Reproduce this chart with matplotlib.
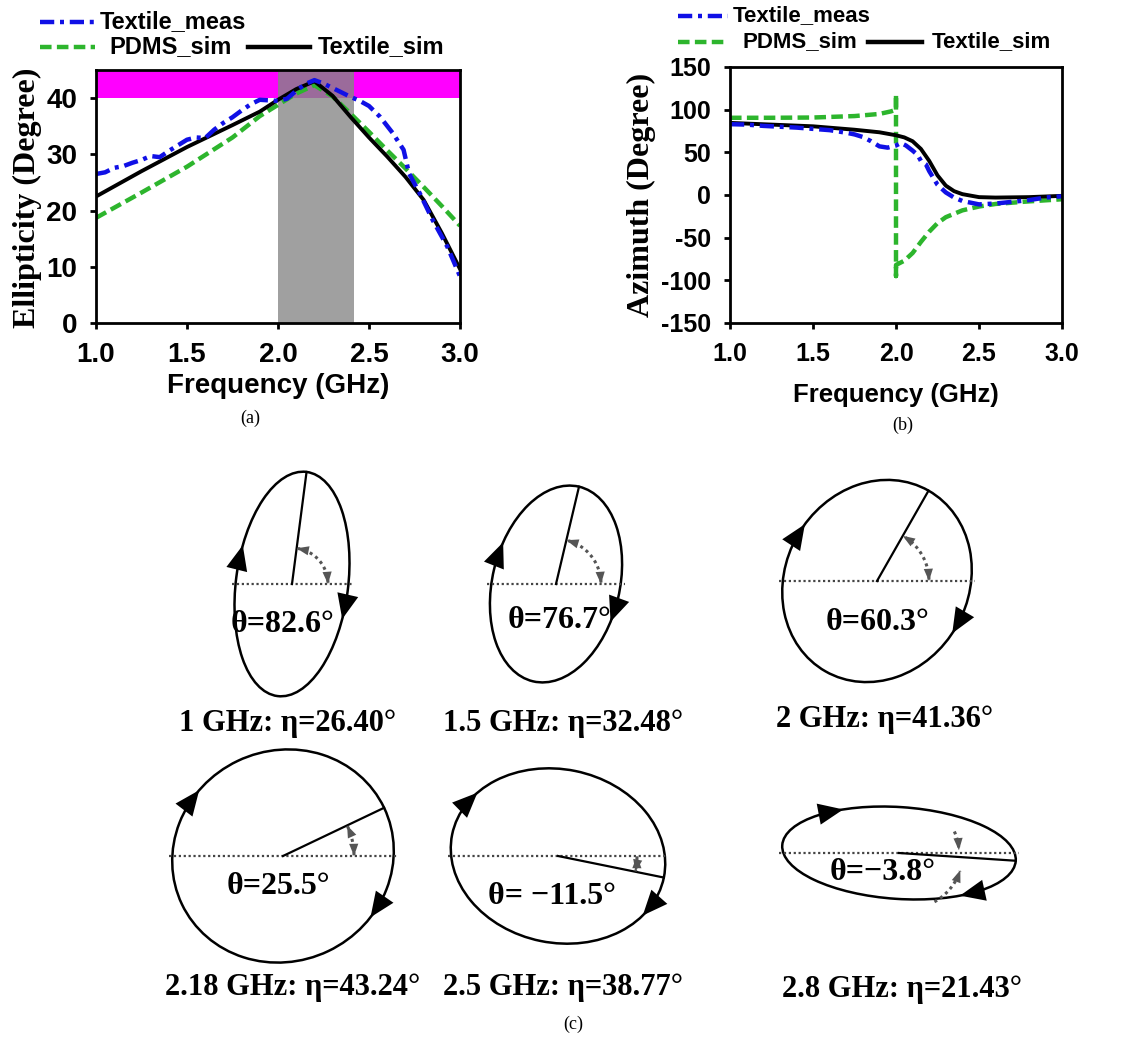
import numpy as np
import matplotlib.pyplot as plt
from matplotlib.lines import Line2D
from matplotlib.patches import Ellipse, Rectangle

W, H = 1145, 1038
SANS = 'Liberation Sans'
SERIF = 'Liberation Serif'
plt.rcParams['font.family'] = SANS
plt.rcParams['font.weight'] = 'bold'
plt.rcParams['axes.unicode_minus'] = False

BLUE = '#1010E6'
GREEN = '#2DB52D'

# ---- (a) ellipticity vs frequency
freq_meas_a = [1.00, 1.05, 1.10, 1.15, 1.20, 1.25, 1.30, 1.35, 1.40, 1.45, 1.50, 1.55,
               1.60, 1.65, 1.70, 1.75, 1.80, 1.85, 1.90, 1.95, 2.00, 2.05, 2.10, 2.15,
               2.20, 2.25, 2.30, 2.35, 2.40, 2.45, 2.50, 2.56, 2.63, 2.69, 2.72, 2.78,
               2.85, 2.93, 3.00]
ell_textile_meas = [26.5, 26.8, 27.6, 27.9, 28.5, 29.0, 29.7, 29.5, 30.6, 31.6, 32.6, 33.0,
                    32.9, 34.4, 35.6, 36.6, 37.8, 38.9, 39.7, 39.6, 39.5, 39.9, 41.3, 42.5,
                    43.2, 42.6, 41.8, 41.0, 40.2, 39.5, 38.6, 36.7, 33.8, 30.8, 26.6, 23.0,
                    18.3, 13.6, 8.3]
freq_sim_a = [1.0, 1.25, 1.5, 1.75, 1.9, 2.0, 2.1, 2.2, 2.3, 2.4, 2.5, 2.6, 2.7, 2.8, 2.9, 3.0]
ell_textile_sim = [22.5, 27.0, 31.3, 35.2, 37.6, 39.7, 41.6, 43.0, 40.4, 36.6, 33.0, 29.6,
                   26.0, 21.9, 16.0, 9.6]
ell_pdms_sim = [18.7, 23.2, 27.8, 33.0, 36.8, 38.8, 40.8, 42.3, 40.3, 37.2, 34.0, 30.7,
                27.5, 24.2, 20.8, 17.3]
cp_band = (2.0, 2.42)
ell_limit = (40, 45)

# ---- (b) azimuth vs frequency
freq_meas_b = [1.0, 1.1, 1.2, 1.3, 1.4, 1.5, 1.6, 1.7, 1.75, 1.8, 1.85, 1.9, 1.95, 2.0,
               2.03, 2.06, 2.1, 2.13, 2.15, 2.18, 2.2, 2.25, 2.3, 2.35, 2.4, 2.5, 2.6,
               2.7, 2.8, 2.9, 3.0]
az_textile_meas = [83, 82.5, 81, 80, 79, 77.5, 76, 73, 71, 68, 63, 57, 55.5, 58,
                   61, 58, 52, 47, 40, 36, 28, 12, 3, -3, -7, -11, -10,
                   -8, -6, -3, -1.5]
freq_textile_sim_b = [1.0, 1.25, 1.5, 1.75, 1.9, 2.0, 2.05, 2.1, 2.15, 2.2, 2.25, 2.3, 2.35,
                      2.4, 2.5, 2.6, 2.8, 3.0]
az_textile_sim = [84.5, 82.5, 80.5, 76.5, 73.5, 70.0, 67.5, 63.0, 54.0, 40.0, 23.0, 11.0, 4.5,
                  1.0, -2.5, -3.0, -2.5, -1.0]
freq_pdms_b = [1.0, 1.25, 1.5, 1.75, 1.9, 1.97, 2.0, 2.0, 2.0, 2.0, 2.05, 2.1, 2.15, 2.2,
               2.25, 2.3, 2.4, 2.5, 2.6, 2.8, 3.0]
az_pdms_sim = [90.5, 90.5, 90.8, 92.5, 95, 98, 100, 118, -95, -82, -77, -68, -55, -43,
               -33, -26, -18, -13.5, -10.5, -7.5, -5]

# ---- (c) polarisation ellipses
pol_freq = ['1', '1.5', '2', '2.18', '2.5', '2.8']
pol_theta = [82.6, 76.7, 60.3, 25.5, -11.5, -3.8]
pol_eta = [26.40, 32.48, 41.36, 43.24, 38.77, 21.43]
theta_labels = ['θ=82.6°', 'θ=76.7°', 'θ=60.3°', 'θ=25.5°', 'θ= −11.5°', 'θ=−3.8°']

# ellipse layout (pixels, y down)
pol_cx = [292, 556, 877, 283, 558, 899]
pol_cy = [584, 584, 581, 856, 856, 853]
pol_a = [113, 100, 104, 112, 108, 117]
arc_r = [36, 45, 52, 71, 79, 52]
theta_xy = [(283, 625), (560, 620), (878, 623), (278, 887), (552, 897), (883, 873)]
caption_xy = [(288, 723), (563, 723), (885, 720), (293, 988), (563, 988), (902, 990)]


def fx(x):
    return x / W


def fy(y):
    return 1 - y / H


def style_axes(ax, size):
    for sp in ax.spines.values():
        sp.set_linewidth(2)
    ax.tick_params(direction='out', length=4.5, width=2, labelsize=size, pad=9)


def legend(fig, rows, size):
    # rows: (x0, x1, y, text_x, color, ls, label)
    for x0, x1, y, tx, col, ls, lab in rows:
        ln = Line2D([fx(x0), fx(x1)], [fy(y), fy(y)], transform=fig.transFigure,
                    color=col, lw=3.2, linestyle=ls)
        fig.add_artist(ln)
        fig.text(fx(tx), fy(y), lab, fontsize=size, fontweight='bold', va='center', ha='left')


fig = plt.figure(figsize=(W / 100, H / 100), dpi=100)

dashdot = (0, (3.2, 1.3, 0.9, 1.3))
dashed = (0, (2.6, 1.2))

# ---- panel (a)
axa = fig.add_axes([fx(96), fy(323), 364 / W, 253 / H])
axa.axhspan(*ell_limit, color='#FF00FF', lw=0, zorder=0)
axa.axvspan(*cp_band, color='#A0A0A0', lw=0, zorder=0)
axa.add_patch(Rectangle((cp_band[0], ell_limit[0]), cp_band[1] - cp_band[0],
                        ell_limit[1] - ell_limit[0], color='#9B6B9B', lw=0, zorder=0.5))
axa.plot(freq_sim_a, ell_pdms_sim, color=GREEN, lw=3.2, linestyle=dashed)
axa.plot(freq_sim_a, ell_textile_sim, color='black', lw=2.8)
axa.plot(freq_meas_a, ell_textile_meas, color=BLUE, lw=3.2, linestyle=dashdot)
axa.set_xlim(1.0, 3.0)
axa.set_ylim(0, 45)
axa.set_xticks([1.0, 1.5, 2.0, 2.5, 3.0])
axa.set_yticks([0, 10, 20, 30, 40])
style_axes(axa, 20)

fig.text(fx(27), fy(198), 'Ellipticity (Degree)', family=SERIF, fontsize=23,
         fontweight='bold', rotation=90, ha='center', va='center')
fig.text(fx(278), fy(393), 'Frequency (GHz)', fontsize=20, fontweight='bold',
         ha='center', va='baseline')
fig.text(fx(250), fy(418), '(a)', family=SERIF, fontsize=13, fontweight='normal',
         ha='center', va='center')

legend(fig, [
    (40, 97, 22, 100, BLUE, dashdot, 'Textile_meas'),
    (40, 95, 47, 109, GREEN, dashed, 'PDMS_sim'),
    (248, 310, 47, 318, 'black', '-', 'Textile_sim'),
], 17)

# ---- panel (b)
axb = fig.add_axes([fx(730), fy(323), 332 / W, 256 / H])
axb.plot(freq_pdms_b, az_pdms_sim, color=GREEN, lw=3.2, linestyle=dashed)
axb.plot(freq_textile_sim_b, az_textile_sim, color='black', lw=2.8)
axb.plot(freq_meas_b, az_textile_meas, color=BLUE, lw=3.2, linestyle=dashdot)
axb.set_xlim(1.0, 3.0)
axb.set_ylim(-150, 150)
axb.set_xticks([1.0, 1.5, 2.0, 2.5, 3.0])
axb.set_yticks([-150, -100, -50, 0, 50, 100, 150])
style_axes(axb, 18)

fig.text(fx(641), fy(195), 'Azimuth (Degree)', family=SERIF, fontsize=23,
         fontweight='bold', rotation=90, ha='center', va='center')
fig.text(fx(896), fy(402), 'Frequency (GHz)', fontsize=18.5, fontweight='bold',
         ha='center', va='baseline')
fig.text(fx(903), fy(425), '(b)', family=SERIF, fontsize=13, fontweight='normal',
         ha='center', va='center')

legend(fig, [
    (678, 728, 16, 733, BLUE, dashdot, 'Textile_meas'),
    (678, 727, 42, 742, GREEN, dashed, 'PDMS_sim'),
    (868, 922, 42, 932, 'black', '-', 'Textile_sim'),
], 16)

# ---- panel (c): polarisation ellipses drawn in pixel space (y up)
axc = fig.add_axes([0, 0, 1, 1], zorder=-1)
axc.set_xlim(0, W)
axc.set_ylim(0, H)
axc.axis('off')

GREY = '#555555'


def head(ax, p_from, p_to, col, scale, hl=0.8, hw=0.3):
    ax.annotate('', xy=p_to, xytext=p_from,
                arrowprops=dict(arrowstyle=f'-|>,head_length={hl},head_width={hw}',
                                color=col, lw=0, mutation_scale=scale,
                                shrinkA=0, shrinkB=0))


def dotted_arc(ax, cx, cy, r, a0, a1, both=True):
    s = np.radians(np.linspace(a0, a1, 40))
    xs, ys = cx + r * np.cos(s), cy + r * np.sin(s)
    ax.plot(xs[1:-1], ys[1:-1], linestyle=(0, (1, 1.2)), color=GREY, lw=2.2)
    head(ax, (xs[-5], ys[-5]), (xs[-1], ys[-1]), GREY, 11)
    if both:
        head(ax, (xs[4], ys[4]), (xs[0], ys[0]), GREY, 11)


for i in range(len(pol_freq)):
    cx, cy = pol_cx[i], H - pol_cy[i]
    th_deg = pol_theta[i]
    th = np.radians(th_deg)
    a = pol_a[i]
    b = a * np.tan(np.radians(pol_eta[i]))

    axc.add_patch(Ellipse((cx, cy), 2 * a, 2 * b, angle=th_deg, fill=False,
                          lw=1.8, color='black'))

    hw = np.sqrt((a * np.cos(th)) ** 2 + (b * np.sin(th)) ** 2)
    axc.plot([cx - hw - 3, cx + hw + 3], [cy, cy], linestyle=(0, (1, 1.2)),
             color='#444444', lw=1.6)
    axc.plot([cx, cx + a * np.cos(th)], [cy, cy + a * np.sin(th)], color='black', lw=1.6)

    # sense of rotation arrows on the ellipse
    t = np.linspace(0, 2 * np.pi, 721)[:-1]
    px = cx + a * np.cos(t) * np.cos(th) - b * np.sin(t) * np.sin(th)
    py = cy + a * np.cos(t) * np.sin(th) + b * np.sin(t) * np.cos(th)
    ang = np.degrees(np.arctan2(py - cy, px - cx))
    for phi in (142, -35):
        k = np.argmin(np.abs((ang - phi + 180) % 360 - 180))
        k0 = (k + 14) % len(t)
        head(axc, (px[k0], py[k0]), (px[k], py[k]), 'black', 24, hl=0.75, hw=0.32)

    # angle marker between the horizontal and the major axis
    r = arc_r[i]
    if abs(th_deg) > 8:
        dotted_arc(axc, cx, cy, r, 0, th_deg)
    else:
        dotted_arc(axc, cx + 8, cy, r, 25, 3, both=False)
        dotted_arc(axc, cx + 8, cy, r + 4, th_deg - 58, th_deg - 14, both=False)

    tx, ty = theta_xy[i]
    axc.text(tx, H - ty, theta_labels[i], family=SERIF, fontsize=23, fontweight='bold',
             ha='center', va='center')
    lx, ly = caption_xy[i]
    axc.text(lx, H - ly, f'{pol_freq[i]} GHz: η={pol_eta[i]:.2f}°', family=SERIF,
             fontsize=22, fontweight='bold', ha='center', va='center')

fig.text(fx(573), fy(1024), '(c)', family=SERIF, fontsize=13, fontweight='normal',
         ha='center', va='center')

fig.savefig('out.png', dpi=100)
